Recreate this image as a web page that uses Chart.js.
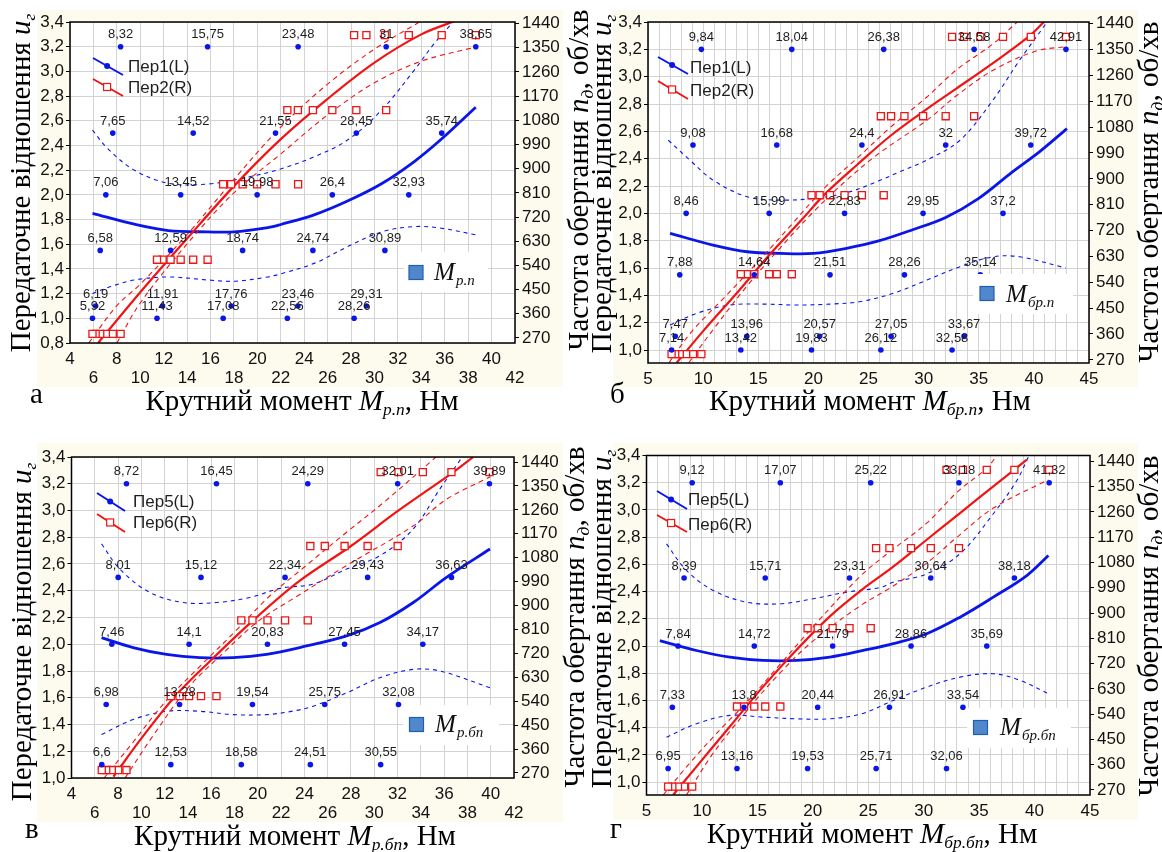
<!DOCTYPE html>
<html>
<head>
<meta charset="utf-8">
<script src="https://cdn.jsdelivr.net/npm/chart.js@4.4.0/dist/chart.umd.min.js"></script>
<style>
  body { margin: 0; background: #fff; width: 1162px; height: 852px; position: relative; overflow: hidden; }
  canvas { position: absolute; }
  .t { position: absolute; white-space: nowrap; font-family: 'Liberation Serif', 'Times New Roman', serif; font-size: 29px; line-height: 1; color: #000; }
  .t sub { font-size: 0.6em; vertical-align: baseline; position: relative; top: 0.3em; }
  .rot { transform: translate(-50%, -50%) rotate(-90deg); }
  .hor { transform: translateX(-50%); }
</style>
</head>
<body>
<canvas id="chartA" width="581" height="430" style="left:0;top:0"></canvas>
<canvas id="chartB" width="581" height="430" style="left:581px;top:0"></canvas>
<canvas id="chartC" width="581" height="422" style="left:0;top:430px"></canvas>
<canvas id="chartD" width="581" height="422" style="left:581px;top:430px"></canvas>

<!-- підписи осей -->
<div class="t rot" style="left:20px;top:183px">Передаточне відношення <i>u</i><sub><i>г</i></sub></div>
<div class="t rot" style="left:578px;top:180px">Частота обертання <i>n</i><sub><i>д</i></sub>, об/хв</div>
<div class="t hor" style="left:302px;top:386px">Крутний момент <i>M</i><sub><i>р.п</i></sub>, Нм</div>
<div class="t" style="left:30px;top:379px">а</div>

<div class="t rot" style="left:601px;top:184px">Передаточне відношення <i>u</i><sub><i>г</i></sub></div>
<div class="t rot" style="left:1148px;top:192px">Частота обертання <i>n</i><sub><i>д</i></sub>, об/хв</div>
<div class="t hor" style="left:870px;top:386px">Крутний момент <i>M</i><sub><i>бр.п</i></sub>, Нм</div>
<div class="t" style="left:610px;top:379px">б</div>

<div class="t rot" style="left:21px;top:632px">Передаточне відношення <i>u</i><sub><i>г</i></sub></div>
<div class="t rot" style="left:574px;top:617px">Частота обертання <i>n</i><sub><i>д</i></sub>, об/хв</div>
<div class="t hor" style="left:295px;top:821px">Крутний момент <i>M</i><sub><i>р.бп</i></sub>, Нм</div>
<div class="t" style="left:25px;top:814px">в</div>

<div class="t rot" style="left:601px;top:619px">Передаточне відношення <i>u</i><sub><i>г</i></sub></div>
<div class="t rot" style="left:1148px;top:626px">Частота обертання <i>n</i><sub><i>д</i></sub>, об/хв</div>
<div class="t hor" style="left:872px;top:819px">Крутний момент <i>M</i><sub><i>бр.бп</i></sub>, Нм</div>
<div class="t" style="left:610px;top:814px">г</div>

<script>
// ---- поділки осей
const speedTicks = [270, 360, 450, 540, 630, 720, 810, 900, 990, 1080, 1170, 1260, 1350, 1440];
const ratioTicks08 = [0.8, 1.0, 1.2, 1.4, 1.6, 1.8, 2.0, 2.2, 2.4, 2.6, 2.8, 3.0, 3.2, 3.4];
const ratioTicks10 = [1.0, 1.2, 1.4, 1.6, 1.8, 2.0, 2.2, 2.4, 2.6, 2.8, 3.0, 3.2, 3.4];
const torqueTicks2 = [4, 6, 8, 10, 12, 14, 16, 18, 20, 22, 24, 26, 28, 30, 32, 34, 36, 38, 40, 42];
const torqueTicks5 = [5, 10, 15, 20, 25, 30, 35, 40, 45];

// ---- панель а
const gearsA = [3.2, 2.5, 2.0, 1.55, 1.1, 1.0];
const torqueA = [
    [8.32, 15.75, 23.48, 31, 38.65],
    [7.65, 14.52, 21.55, 28.45, 35.74],
    [7.06, 13.45, 19.98, 26.4, 32.93],
    [6.58, 12.59, 18.74, 24.74, 30.89],
    [6.19, 11.91, 17.76, 23.46, 29.31],
    [5.92, 11.43, 17.08, 22.56, 28.26]
];
const speedA = [285, 561, 842, 1118, 1397];
const uFitA = [[5.92, 1.85], [9.5, 1.762], [12.4, 1.711], [15.8, 1.70], [18, 1.70], [20.9, 1.735], [22, 1.76], [24.9, 1.84], [27.7, 1.95], [30.6, 2.09], [33.4, 2.27], [35.7, 2.45], [38.65, 2.71]];
const uHiA = [[5.92, 2.525], [7.2, 2.376], [9.5, 2.2], [12.4, 2.094], [15.8, 2.088], [19.5, 2.15], [22, 2.21], [24.9, 2.31], [27.7, 2.444], [30.6, 2.686], [33.4, 3.01], [35.1, 3.225], [36.9, 3.42]];
const uLoA = [[5.92, 1.2], [7.5, 1.258], [9.5, 1.31], [12.4, 1.335], [15.8, 1.31], [18, 1.30], [20.9, 1.335], [22, 1.36], [24.9, 1.447], [27.7, 1.58], [30.6, 1.70], [33.4, 1.743], [35.7, 1.73], [38.65, 1.676]];
const nFitA = [[6.4, 251], [10, 440], [14, 640], [18, 835], [22, 1010], [26, 1160], [30, 1295], [34, 1400], [37.2, 1455]];
const nHiA = [[5.6, 251], [8, 390], [10, 470], [14, 655], [18, 860], [22, 1055], [26, 1215], [30, 1345], [34, 1450]];
const nLoA = [[8, 251], [10, 400], [14, 620], [18, 810], [22, 955], [26, 1100], [30, 1220], [34, 1300], [38.65, 1353]];

// ---- панель б
const gearsB = [3.2, 2.5, 2.0, 1.55, 1.1, 1.0];
const torqueB = [
    [9.84, 18.04, 26.38, 34.58, 42.91],
    [9.08, 16.68, 24.4, 32, 39.72],
    [8.46, 15.99, 22.83, 29.95, 37.2],
    [7.88, 14.64, 21.51, 28.26, 35.14],
    [7.47, 13.96, 20.57, 27.05, 33.67],
    [7.14, 13.42, 19.83, 26.12, 32.58]
];
const speedB = [290, 568, 843, 1118, 1394];
const uFitB = [[7, 1.853], [10.9, 1.768], [14, 1.719], [17, 1.707], [20, 1.707], [23, 1.744], [26, 1.80], [29, 1.88], [32, 1.97], [35, 2.11], [38, 2.30], [40.5, 2.45], [43, 2.62]];
const uHiB = [[6.84, 2.535], [8.8, 2.389], [10.9, 2.243], [14, 2.121], [17, 2.097], [20, 2.109], [23, 2.15], [26, 2.24], [28, 2.31], [30.3, 2.39], [33.3, 2.535], [36.3, 2.83], [38.7, 3.12], [41.3, 3.41]];
const uLoB = [[7, 1.183], [9.4, 1.268], [12.4, 1.329], [15.5, 1.336], [18.5, 1.329], [21.5, 1.336], [24.3, 1.355], [27.25, 1.415], [30.3, 1.512], [33.3, 1.61], [36.3, 1.682], [38.7, 1.682], [42.9, 1.60]];
const nFitB = [[7.6, 260], [10, 370], [13, 500], [16, 635], [19, 760], [21, 845], [24, 950], [27, 1050], [30, 1135], [33, 1215], [36, 1295], [39.5, 1394], [41, 1450]];
const nHiB = [[6.9, 260], [9, 370], [12, 490], [15, 612], [18, 740], [21, 868], [24.2, 980], [27, 1080], [30.3, 1185], [33, 1280], [36.3, 1370], [38.6, 1450]];
const nLoB = [[8.7, 260], [11, 380], [14, 528], [17, 660], [20, 785], [23, 895], [26, 990], [30.3, 1104], [33, 1190], [36.3, 1278], [40.2, 1345], [42.9, 1360]];

// ---- панель в
const gearsC = [3.2, 2.5, 2.0, 1.55, 1.1];
const torqueC = [
    [8.72, 16.45, 24.29, 32.01, 39.89],
    [8.01, 15.12, 22.34, 29.43, 36.63],
    [7.46, 14.1, 20.83, 27.45, 34.17],
    [6.98, 13.28, 19.54, 25.75, 32.08],
    [6.6, 12.53, 18.58, 24.51, 30.55]
];
const speedC = [281, 559, 844, 1124, 1402];
const uFitC = [[6.58, 2.05], [9.29, 1.975], [12.16, 1.924], [15.02, 1.90], [17.88, 1.90], [20.75, 1.924], [23.6, 1.975], [27.63, 2.062], [30.49, 2.162], [33.35, 2.312], [36.2, 2.5], [39.94, 2.712]];
const uHiC = [[6.58, 2.75], [8.15, 2.562], [10.73, 2.387], [13.59, 2.312], [16.45, 2.312], [19.32, 2.35], [22, 2.42], [24.76, 2.45], [27.63, 2.562], [30.49, 2.662], [33.35, 2.862], [35.64, 3.162], [37.64, 3.41]];
const uLoC = [[6.58, 1.325], [9.29, 1.437], [12.16, 1.499], [15.02, 1.499], [17.88, 1.474], [20.75, 1.474], [23, 1.50], [24.76, 1.537], [27.63, 1.637], [30.49, 1.75], [33.35, 1.812], [35.64, 1.80], [39.94, 1.675]];
const nFitC = [[7.6, 256], [10, 400], [12.9, 559], [16, 695], [19.6, 844], [23.5, 990], [28, 1124], [32, 1255], [36.8, 1402], [38.5, 1459]];
const nHiC = [[6.8, 251], [9, 370], [12, 535], [15, 670], [18, 800], [21, 935], [24, 1045], [27.6, 1175], [31, 1295], [35.3, 1459]];
const nLoC = [[8.6, 251], [11, 410], [14, 590], [17, 720], [20, 840], [23, 925], [27.6, 1050], [33.35, 1200], [36.2, 1300], [39.94, 1384]];

// ---- панель г
const gearsD = [3.2, 2.5, 2.0, 1.55, 1.1];
const torqueD = [
    [9.12, 17.07, 25.22, 33.18, 41.32],
    [8.39, 15.71, 23.31, 30.64, 38.18],
    [7.84, 14.72, 21.79, 28.86, 35.69],
    [7.33, 13.8, 20.44, 26.91, 33.54],
    [6.95, 13.16, 19.53, 25.71, 32.06]
];
const speedD = [282, 567, 846, 1131, 1410];
const uFitD = [[6.2, 2.04], [9.51, 1.967], [12.52, 1.918], [15.52, 1.894], [18.54, 1.894], [21.54, 1.918], [24.55, 1.967], [27.26, 2.017], [30.27, 2.09], [33.28, 2.212], [36.28, 2.359], [39.3, 2.518], [41.25, 2.665]];
const uHiD = [[6.8, 2.751], [8.61, 2.555], [11.01, 2.408], [14.03, 2.322], [17.04, 2.31], [20.04, 2.347], [23.05, 2.396], [26.06, 2.43], [27.26, 2.469], [30.27, 2.53], [33.28, 2.678], [36.28, 2.972], [38.4, 3.216], [39.5, 3.40]];
const uLoD = [[6.8, 1.33], [9.51, 1.429], [12.52, 1.49], [15.52, 1.477], [18.54, 1.465], [21.54, 1.465], [24.4, 1.502], [27.26, 1.60], [30.27, 1.698], [33.28, 1.771], [36.28, 1.796], [38.7, 1.747], [41.25, 1.649]];
const nFitD = [[7.4, 252], [9.51, 353], [12.52, 496], [15.52, 638], [18.54, 769], [21.54, 888], [24.5, 985], [27.26, 1065], [30.27, 1161], [33.28, 1256], [36.28, 1351], [39.3, 1446]];
const nHiD = [[6.5, 252], [9, 370], [12, 500], [14, 580], [17, 715], [20, 850], [24.25, 1030], [27, 1120], [30.27, 1220], [33, 1330], [35.7, 1416], [36.6, 1461]];
const nLoD = [[8.6, 252], [11, 400], [14, 550], [17, 685], [20, 800], [24.25, 925], [27, 990], [30.27, 1078], [33, 1170], [36.28, 1274], [41.25, 1375]];

// ---- стиль
const CREAM = '#fdfbee';
const BLUE = '#0a16e8';
const RED = '#f01414';
const GRID = '#d3d3d3';
const SANS = "'Liberation Sans', Arial, sans-serif";
const SERIF = "'Liberation Serif', 'Times New Roman', serif";
const TICK_FONT = { family: SANS, size: 17, lineHeight: 1.1 };

function toXY(list) {
    return list.map(p => ({ x: p[0], y: p[1] }));
}

function decimal(v) {
    return String(v).replace('.', ',');
}

// оформлення панелі: фон, рамка, підписи точок, легенди
function decor(p) {
    return {
        id: 'decor',
        beforeDraw(chart) {
            const { ctx, chartArea: a } = chart;
            ctx.save();
            ctx.fillStyle = CREAM;
            ctx.fillRect(p.cream[0], p.cream[1], p.cream[2], p.cream[3]);
            ctx.fillStyle = '#fff';
            ctx.fillRect(a.left, a.top, a.right - a.left, a.bottom - a.top);
            ctx.restore();
        },
        afterDatasetsDraw(chart) {
            const ctx = chart.ctx;
            const pts = chart.data.datasets[0].data;
            ctx.save();
            ctx.font = '13px ' + SANS;
            ctx.fillStyle = '#1e1e1e';
            ctx.textAlign = 'center';
            ctx.textBaseline = 'middle';
            chart.getDatasetMeta(0).data.forEach((el, i) => {
                ctx.fillText(decimal(pts[i].x), el.x, el.y - 12);
            });

            // легенда серій
            const lg = p.legend;
            [[BLUE, 'circle'], [RED, 'rect']].forEach(([color, mark], k) => {
                const [x1, y1, x2, y2] = lg.lines[k];
                ctx.strokeStyle = color;
                ctx.lineWidth = 2;
                ctx.beginPath();
                ctx.moveTo(x1, y1);
                ctx.lineTo(x2, y2);
                ctx.stroke();
                const mx = x1 + (x2 - x1) * 0.47, my = y1 + (y2 - y1) * 0.47;
                if (mark === 'circle') {
                    ctx.fillStyle = color;
                    ctx.beginPath();
                    ctx.arc(mx, my, 3, 0, Math.PI * 2);
                    ctx.fill();
                } else {
                    ctx.fillStyle = '#fff';
                    ctx.lineWidth = 1.2;
                    ctx.fillRect(mx - 3.5, my - 3.5, 7, 7);
                    ctx.strokeRect(mx - 3.5, my - 3.5, 7, 7);
                }
                ctx.fillStyle = '#1e1e1e';
                ctx.font = '17px ' + SANS;
                ctx.textAlign = 'left';
                ctx.fillText(lg.names[k], lg.textX, lg.textY[k]);
            });

            // легенда моменту
            const mb = p.mbox;
            ctx.fillStyle = '#fff';
            ctx.fillRect(mb.box[0], mb.box[1], mb.box[2], mb.box[3]);
            ctx.fillStyle = '#5087cd';
            ctx.strokeStyle = '#1f5fae';
            ctx.lineWidth = 1.2;
            ctx.fillRect(mb.sq[0], mb.sq[1], 14, 14);
            ctx.strokeRect(mb.sq[0], mb.sq[1], 14, 14);
            ctx.fillStyle = '#111';
            ctx.textBaseline = 'alphabetic';
            ctx.font = 'italic 25px ' + SERIF;
            ctx.fillText('M', mb.mx, mb.base);
            ctx.font = 'italic 15px ' + SERIF;
            ctx.fillText(mb.sub, mb.mx + 22, mb.base + 5);
            ctx.restore();
        },
        afterDraw(chart) {
            const { ctx, chartArea: a } = chart;
            ctx.save();
            ctx.strokeStyle = '#000';
            ctx.lineWidth = 1.5;
            ctx.strokeRect(a.left, a.top, a.right - a.left, a.bottom - a.top);
            ctx.restore();
        }
    };
}

function buildPanel(p) {
    const bluePts = [], redPts = [];
    p.gears.forEach((u, i) => {
        p.torque[i].forEach((m, j) => {
            bluePts.push({ x: m, y: u });
            redPts.push({ x: m, y: p.speed[j] });
        });
    });

    const line = (d, axis, color, width, dash, order) => ({
        data: toXY(d), yAxisID: axis, showLine: true, borderColor: color, borderWidth: width,
        borderDash: dash, pointRadius: 0, tension: 0.35, fill: false, order: order
    });

    const canvas = document.getElementById(p.id);
    new Chart(canvas.getContext('2d'), {
        type: 'scatter',
        data: {
            datasets: [
                { data: bluePts, yAxisID: 'y', pointRadius: 2.8, pointBackgroundColor: BLUE, pointBorderWidth: 0, showLine: false, order: 0 },
                { data: redPts, yAxisID: 'y2', pointStyle: 'rect', pointRadius: 5, pointBackgroundColor: '#fff', pointBorderColor: RED, pointBorderWidth: 1.3, showLine: false, order: 1 },
                line(p.nFit, 'y2', RED, 2.2, [], 2),
                line(p.nHi, 'y2', RED, 1.1, [5, 4], 2),
                line(p.nLo, 'y2', RED, 1.1, [5, 4], 2),
                line(p.uFit, 'y', BLUE, 2.8, [], 3),
                line(p.uHi, 'y', BLUE, 1.1, [4, 4], 3),
                line(p.uLo, 'y', BLUE, 1.1, [4, 4], 3)
            ]
        },
        options: {
            responsive: false,
            devicePixelRatio: 1,
            animation: false,
            layout: { padding: { top: p.area.t, left: 0, right: 0, bottom: 0 } },
            plugins: { legend: { display: false }, tooltip: { enabled: false } },
            scales: {
                x: {
                    type: 'linear', min: p.xMin, max: p.xMax,
                    afterBuildTicks: s => { s.ticks = p.xGrid.map(v => ({ value: v })); },
                    afterFit: s => { s.height = canvas.height - p.area.b; },
                    grid: { color: GRID, drawTicks: false },
                    border: { display: false },
                    ticks: { autoSkip: false, maxRotation: 0, minRotation: 0, padding: 7, color: '#111', font: TICK_FONT, callback: p.xLabel }
                },
                y: {
                    position: 'left', min: p.uMin, max: p.uMax,
                    afterBuildTicks: s => { s.ticks = p.uTicks.map(v => ({ value: v })); },
                    afterFit: s => { s.width = p.area.l; },
                    grid: { color: GRID, tickColor: '#000', tickLength: 4 },
                    border: { display: false },
                    ticks: { padding: 2, color: '#111', font: TICK_FONT, callback: v => v.toFixed(1).replace('.', ',') }
                },
                y2: {
                    position: 'right', min: p.nMin, max: p.nMax,
                    afterBuildTicks: s => { s.ticks = speedTicks.map(v => ({ value: v })); },
                    afterFit: s => { s.width = canvas.width - p.area.r; },
                    grid: { drawOnChartArea: false, color: '#000', tickLength: 4 },
                    border: { display: false },
                    ticks: { padding: 3, color: '#111', font: TICK_FONT, callback: v => String(v) }
                }
            }
        },
        plugins: [decor(p)]
    });
}

// підписи по осі абсцис у два ряди
const twoRowLabel = (v, i) => (i % 2 ? ['', String(v)] : String(v));
const fiveLabel = v => (torqueTicks5.includes(v) ? String(v) : '');
const unitGrid = Array.from({ length: 41 }, (_, i) => 5 + i);

buildPanel({
    id: 'chartA', gears: gearsA, torque: torqueA, speed: speedA,
    uFit: uFitA, uHi: uHiA, uLo: uLoA, nFit: nFitA, nHi: nHiA, nLo: nLoA,
    area: { l: 70, r: 515, t: 22, b: 343 }, cream: [37, 10, 526, 377],
    xMin: 4, xMax: 42, xGrid: torqueTicks2, xLabel: twoRowLabel,
    uMin: 0.8, uMax: 3.4, uTicks: ratioTicks08, nMin: 251, nMax: 1446,
    legend: { lines: [[93, 58, 123, 75], [93, 79, 123, 96]], textX: 128, textY: [67, 88], names: ['Пер1(L)', 'Пер2(R)'] },
    mbox: { box: [404, 252, 84, 40], sq: [409, 265.5], mx: 434, base: 280, sub: 'р.п' }
});

buildPanel({
    id: 'chartB', gears: gearsB, torque: torqueB, speed: speedB,
    uFit: uFitB, uHi: uHiB, uLo: uLoB, nFit: nFitB, nHi: nHiB, nLo: nLoB,
    area: { l: 67, r: 508, t: 22, b: 363 }, cream: [32, 10, 525, 377],
    xMin: 5, xMax: 45, xGrid: unitGrid, xLabel: fiveLabel,
    uMin: 0.905, uMax: 3.4, uTicks: ratioTicks10, nMin: 259, nMax: 1446,
    legend: { lines: [[77, 57, 107, 74], [77, 81, 107, 99]], textX: 109, textY: [68, 91], names: ['Пер1(L)', 'Пер2(R)'] },
    mbox: { box: [392, 274, 100, 40], sq: [399, 286.5], mx: 425, base: 301.5, sub: 'бр.п' }
});

buildPanel({
    id: 'chartC', gears: gearsC, torque: torqueC, speed: speedC,
    uFit: uFitC, uHi: uHiC, uLo: uLoC, nFit: nFitC, nHi: nHiC, nLo: nLoC,
    area: { l: 71.5, r: 514, t: 27, b: 348 }, cream: [37, 13, 526, 379],
    xMin: 4, xMax: 42, xGrid: torqueTicks2, xLabel: twoRowLabel,
    uMin: 1.0, uMax: 3.4, uTicks: ratioTicks10, nMin: 251, nMax: 1459,
    legend: { lines: [[97, 63, 125, 81], [97, 84, 125, 102]], textX: 133, textY: [72, 93], names: ['Пер5(L)', 'Пер6(R)'] },
    mbox: { box: [403, 275, 96, 40], sq: [409.5, 287.5], mx: 435, base: 301.5, sub: 'р.бп' }
});

buildPanel({
    id: 'chartD', gears: gearsD, torque: torqueD, speed: speedD,
    uFit: uFitD, uHi: uHiD, uLo: uLoD, nFit: nFitD, nHi: nHiD, nLo: nLoD,
    area: { l: 65.5, r: 509, t: 25.5, b: 365 }, cream: [32, 13, 525, 377],
    xMin: 5, xMax: 45, xGrid: unitGrid, xLabel: fiveLabel,
    uMin: 0.905, uMax: 3.4, uTicks: ratioTicks10, nMin: 252, nMax: 1461,
    legend: { lines: [[76, 61, 106, 79], [76, 85, 106, 102]], textX: 107, textY: [70, 95], names: ['Пер5(L)', 'Пер6(R)'] },
    mbox: { box: [386, 278, 104, 40], sq: [392.5, 290.5], mx: 419, base: 305, sub: 'бр.бп' }
});
</script>
</body>
</html>
